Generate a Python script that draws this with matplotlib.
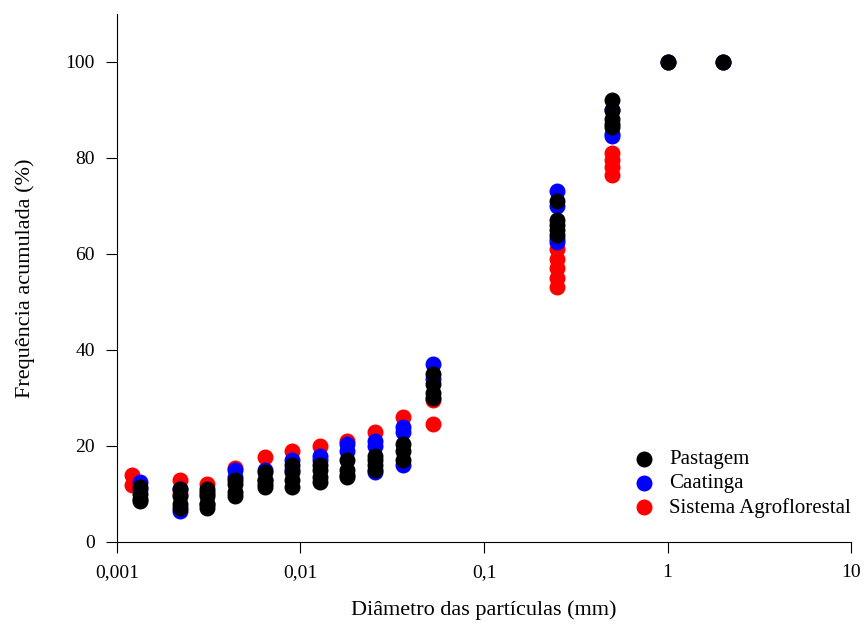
import matplotlib
matplotlib.use("Agg")
import matplotlib.pyplot as plt
import matplotlib.ticker as ticker

plt.rcParams['font.family'] = ['Liberation Serif', 'DejaVu Serif']

# diametros (mm) e frequencias acumuladas (%) - varias repeticoes por diametro
x_past = [0.00133]*4 + [0.0022]*4 + [0.0031]*4 + [0.0044]*4 + [0.0064]*4 + [0.009]*4 \
    + [0.0128]*4 + [0.018]*4 + [0.0255]*4 + [0.036]*3 + [0.053]*4 + [0.25]*5 + [0.5]*5 + [1, 2]
y_past = [11.5, 10, 9, 8.5,  11, 9.5, 8, 7,  11, 9.5, 8, 7,  13, 12, 10.5, 9.5,
          14.5, 13, 12, 11.5,  16, 14.5, 13, 11.5,  16, 15, 13.5, 12.5,  17, 15, 14, 13.5,
          18, 17, 16, 15,  20.5, 19, 17,  35, 33, 31, 30,  71, 67, 66, 65, 64,
          92, 90, 88, 87, 86.5,  100, 100]

x_caat = [0.00134]*2 + [0.0022]*2 + [0.0031]*2 + [0.0044]*2 + [0.0064]*2 + [0.009]*2 \
    + [0.0128]*2 + [0.018]*2 + [0.0255]*3 + [0.036]*3 + [0.053]*2 + [0.25]*4 + [0.5]*3 + [1, 2]
y_caat = [12.5, 11,  11, 6.5,  10.5, 8,  15, 13.5,  15, 13,  17, 15,  18, 17,  20.5, 19,
          21, 20, 14.5,  24, 23, 16,  37, 34,  73, 70, 63, 62.5,  90, 85, 84.5,  100, 100]

x_saf = [0.00121]*2 + [0.0022]*2 + [0.0031]*2 + [0.0044] + [0.0064] + [0.009] \
    + [0.0128] + [0.018] + [0.0255] + [0.036] + [0.053]*2 + [0.25]*5 + [0.5]*4 + [1, 2]
y_saf = [14, 11.8,  13, 10,  12, 10,  15.5,  17.8,  19,  20,  21,  23,  26,  29.5, 24.5,
         61, 59, 57, 55, 53,  81, 79.5, 78, 76.5,  100, 100]

fig = plt.figure(figsize=(8.64, 6.28), dpi=100)
ax = fig.add_axes([0.1354, 0.137, 0.8496, 0.841])

ax.scatter(x_saf, y_saf, s=110, color='#ff0000', label='Sistema Agroflorestal', zorder=3)
ax.scatter(x_caat, y_caat, s=110, color='#0000ff', label='Caatinga', zorder=4)
ax.scatter(x_past, y_past, s=110, color='black', label='Pastagem', zorder=5)

ax.set_xscale('log')
ax.set_xlim(0.001, 10)
ax.set_ylim(0, 110)
ax.set_yticks([0, 20, 40, 60, 80, 100])
ax.xaxis.set_major_locator(ticker.FixedLocator([0.001, 0.01, 0.1, 1, 10]))
ax.xaxis.set_minor_locator(ticker.NullLocator())
ax.set_xticklabels(['0,001', '0,01', '0,1', '1', '10'])

for s in ['top', 'right']:
    ax.spines[s].set_visible(False)
ax.tick_params(direction='out', length=8, labelsize=14, pad=8)

ax.set_xlabel('Diâmetro das partículas (mm)', fontsize=16, labelpad=14)
ax.set_ylabel('Frequência acumulada (%)', fontsize=16, labelpad=22)

h, l = ax.get_legend_handles_labels()
ax.legend(h[::-1], l[::-1], loc='lower right', frameon=False, fontsize=15,
          handletextpad=0.2, labelspacing=0.22, bbox_to_anchor=(1.025, 0.01))

fig.savefig('out.png', dpi=100)
